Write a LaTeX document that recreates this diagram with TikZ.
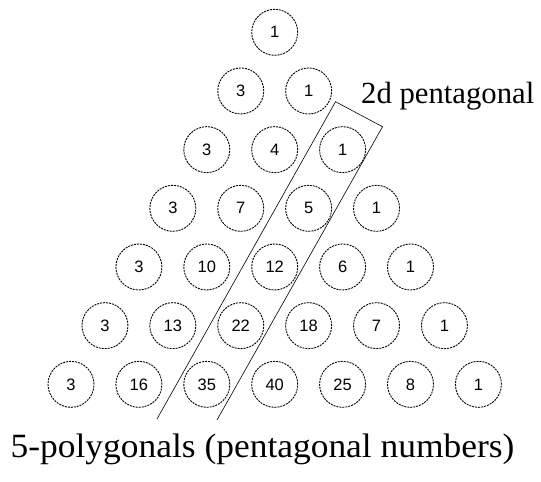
\documentclass[tikz,border=0pt]{standalone}
\usepackage{graphicx}
\usepackage{fontspec}
\setmainfont{Liberation Serif}
\setsansfont{Liberation Sans}
\begin{document}
\begin{tikzpicture}[x=1pt,y=-1pt,
  num/.style={circle,draw,dash pattern=on 2pt off 1pt,line width=0.9pt,minimum size=46pt,inner sep=0pt,font=\sffamily\fontsize{16.5}{19}\selectfont},
  frame/.style={line width=0.6pt},
  lbl/.style={inner sep=0pt,anchor=base west}]
\useasboundingbox (0,0) rectangle (541,482);
\foreach \vals [count=\n from 0] in {{1},{3,1},{3,4,1},{3,7,5,1},{3,10,12,6,1},{3,13,22,18,7,1},{3,16,35,40,25,8,1}}{
  \foreach \v [count=\k from 0] in \vals {
    \node[num] (c-\n-\k) at ({274.7+(\k-\n/2)*67.9},{32.3+\n*58.67}) {\v};
  }
}
\coordinate (bl) at (157,419);
\coordinate (tl) at (335.5,101.7);
\coordinate (tr) at (382.5,126.7);
\coordinate (br) at (217,420);
\draw[frame] (bl) -- (tl) -- (tr) -- (br);
\node[lbl,font=\fontsize{30.7}{36}\selectfont] (t2d) at (361,103.3) {2d pentagonal};
\node[lbl,font=\fontsize{34}{40}\selectfont] (t5) at (10.5,457.3) {\scalebox{1.042}[1]{5-polygonals (pentagonal numbers)}};
\end{tikzpicture}
\end{document}
